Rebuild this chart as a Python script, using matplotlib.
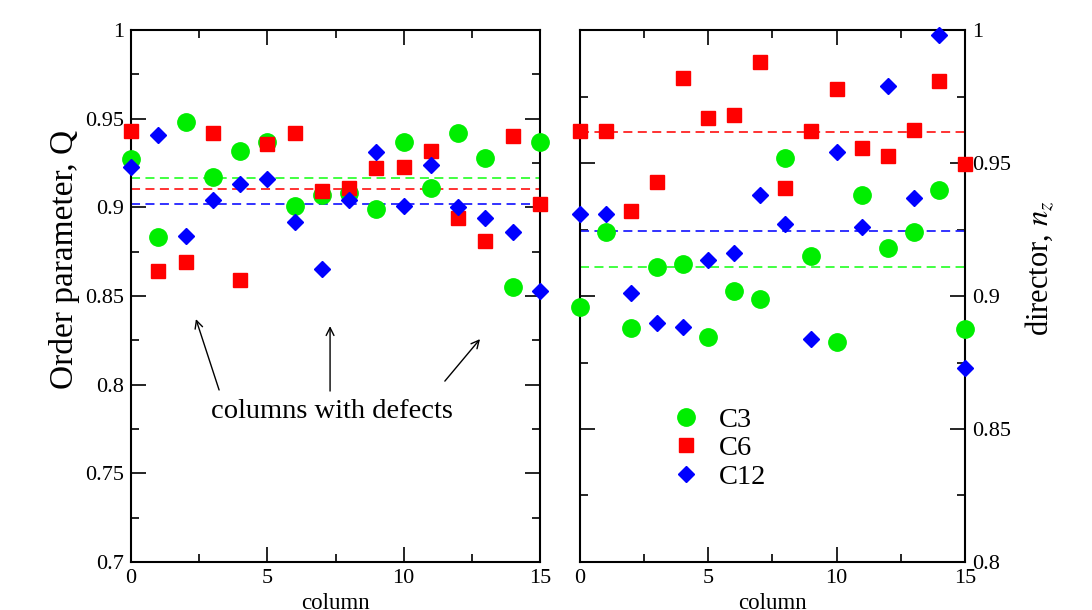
import matplotlib
matplotlib.use("Agg")
import matplotlib.pyplot as plt
from matplotlib.ticker import MultipleLocator, FuncFormatter

plt.rcParams['font.family'] = ['Liberation Serif', 'DejaVu Serif']
plt.rcParams['mathtext.fontset'] = 'stix'

# column index
columns = list(range(16))

# order parameter Q (left panel)
q_c3 = [0.927, 0.883, 0.948, 0.917, 0.932, 0.937, 0.901, 0.907,
        0.908, 0.899, 0.937, 0.911, 0.942, 0.928, 0.855, 0.937]
q_c6 = [0.943, 0.864, 0.869, 0.942, 0.859, 0.936, 0.942, 0.909,
        0.911, 0.922, 0.923, 0.932, 0.894, 0.881, 0.940, 0.902]
q_c12 = [0.923, 0.941, 0.884, 0.904, 0.913, 0.916, 0.892, 0.865,
         0.904, 0.931, 0.901, 0.924, 0.900, 0.894, 0.886, 0.853]
q_mean = {'C3': 0.9167, 'C6': 0.9103, 'C12': 0.902}

# director n_z (right panel)
n_c3 = [0.896, 0.924, 0.888, 0.911, 0.912, 0.8845, 0.902, 0.899,
        0.952, 0.915, 0.8826, 0.938, 0.918, 0.924, 0.940, 0.8875]
n_c6 = [0.962, 0.962, 0.932, 0.943, 0.982, 0.967, 0.968, 0.988,
        0.9405, 0.962, 0.978, 0.9555, 0.9526, 0.9624, 0.981, 0.9496]
n_c12 = [0.931, 0.931, 0.901, 0.890, 0.8885, 0.9135, 0.916, 0.938,
         0.927, 0.884, 0.954, 0.926, 0.979, 0.937, 0.998, 0.873]
n_mean = {'C3': 0.9109, 'C6': 0.9615, 'C12': 0.9244}

styles = {'C3': dict(marker='o', color='#00ee00', ms=12.5),
          'C6': dict(marker='s', color='#ff0000', ms=10.5),
          'C12': dict(marker='D', color='#0000ff', ms=8.3)}
line_cols = {'C3': '#33ff33', 'C6': '#ff2222', 'C12': '#2222ff'}

fig = plt.figure(figsize=(10.92, 6.10), dpi=100)
ax1 = fig.add_axes([0.12, 0.0787, 0.3745, 0.8721])
ax2 = fig.add_axes([0.531, 0.0787, 0.3527, 0.8721])

fmt = FuncFormatter(lambda v, p: '%g' % round(v, 3))


def style_axes(ax, lo):
    ax.set_xlim(0, 15)
    ax.set_ylim(lo, 1)
    ax.xaxis.set_major_locator(MultipleLocator(5))
    ax.xaxis.set_minor_locator(MultipleLocator(2.5))
    ax.yaxis.set_major_locator(MultipleLocator(0.05))
    ax.yaxis.set_minor_locator(MultipleLocator(0.025))
    ax.yaxis.set_major_formatter(fmt)
    ax.tick_params(which='both', direction='in', top=True, right=True,
                   width=1.2, labelsize=16, pad=5)
    ax.tick_params(which='major', length=11)
    ax.tick_params(which='minor', length=5.5)
    for s in ax.spines.values():
        s.set_linewidth(1.5)
    ax.set_xlabel('column', fontsize=16.5, labelpad=4)


# left panel
style_axes(ax1, 0.7)
for name, vals in zip(['C3', 'C6', 'C12'], [q_c3, q_c6, q_c12]):
    st = styles[name]
    ax1.plot(columns, vals, ls='none', marker=st['marker'], color=st['color'],
             ms=st['ms'], mec=st['color'], clip_on=False, zorder=3)
    ax1.axhline(q_mean[name], color=line_cols[name], ls=(0, (5, 3)), lw=1.3, zorder=2)
ax1.set_ylabel('Order parameter, Q', fontsize=24)
ax1.yaxis.set_label_coords(-0.126, 0.568)

ax1.text(7.37, 0.7846, 'columns with defects', fontsize=20.5, ha='center', va='center')
arrows = [((3.23, 0.797), (2.38, 0.837)),
          ((7.3, 0.7964), (7.3, 0.833)),
          ((11.51, 0.802), (12.8, 0.8257))]
for tail, head in arrows:
    ax1.annotate('', xy=head, xytext=tail,
                 arrowprops=dict(arrowstyle='->', color='black', lw=1.0,
                                 shrinkA=0, shrinkB=0, mutation_scale=14))

# right panel
style_axes(ax2, 0.8)
ax2.tick_params(axis='y', labelleft=False, labelright=True)
for name, vals in zip(['C3', 'C6', 'C12'], [n_c3, n_c6, n_c12]):
    st = styles[name]
    ax2.plot(columns, vals, ls='none', marker=st['marker'], color=st['color'],
             ms=st['ms'], mec=st['color'], clip_on=False, zorder=3, label=name)
    ax2.axhline(n_mean[name], color=line_cols[name], ls=(0, (5, 3)), lw=1.3, zorder=2)
ax2.yaxis.set_label_position('right')
ax2.set_ylabel('director, $n_z$', fontsize=22)
ax2.yaxis.set_label_coords(1.151, 0.553)

leg = ax2.legend(loc='upper left', bbox_to_anchor=(0.22, 0.292), frameon=False,
                 fontsize=20.5, handletextpad=0.4, labelspacing=0.1,
                 handlelength=1.5, borderaxespad=0, borderpad=0)

fig.savefig('out.png', dpi=100)
